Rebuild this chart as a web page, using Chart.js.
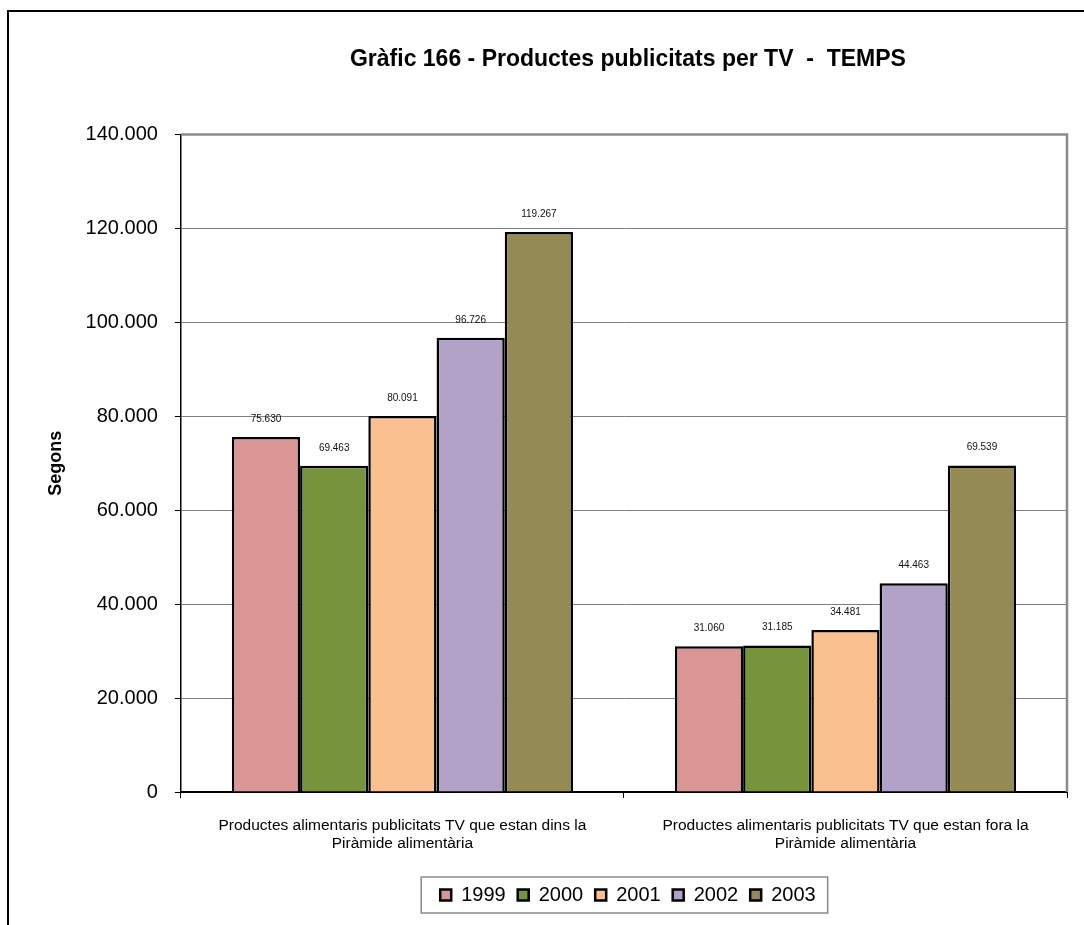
<!DOCTYPE html>
<html>
<head>
<meta charset="utf-8">
<script src="https://cdn.jsdelivr.net/npm/chart.js@4.4.0/dist/chart.umd.min.js"></script>
<style>
  html, body { margin: 0; padding: 0; background: #fff; overflow: hidden; width: 1084px; height: 925px; }
  #frame { position: absolute; left: 7px; top: 10px; width: 2000px; height: 2000px; border: 2.5px solid #000; box-sizing: border-box; }
  #c { position: absolute; left: 0; top: 0; }
</style>
</head>
<body>
<div id="frame"></div>
<canvas id="c" width="1084" height="925"></canvas>
<script>
const titleText = 'Gràfic 166 - Productes publicitats per TV  -  TEMPS';
const yAxisTitle = 'Segons';
const categories = [
  ['Productes alimentaris publicitats TV que estan dins la', 'Piràmide alimentària'],
  ['Productes alimentaris publicitats TV que estan fora la', 'Piràmide alimentària']
];
const years = ['1999', '2000', '2001', '2002', '2003'];
const values1999 = [75630, 31060];
const values2000 = [69463, 31185];
const values2001 = [80091, 34481];
const values2002 = [96726, 44463];
const values2003 = [119267, 69539];
const yMin = 0, yMax = 140000, yStep = 20000;
const colors = ['#D99694', '#77933C', '#FAC090', '#B3A2C7', '#948A54'];

const FONT = "'Liberation Sans', Arial, sans-serif";
function fmt(v) { return String(Math.round(v)).replace(/\B(?=(\d{3})+(?!\d))/g, '.'); }

const seriesValues = [values1999, values2000, values2001, values2002, values2003];
const datasets = years.map((y, i) => ({
  label: y,
  data: seriesValues[i],
  backgroundColor: colors[i],
  borderColor: '#000',
  borderWidth: 2.5,
  borderSkipped: 'bottom',
  categoryPercentage: 0.77,
  barPercentage: 1.0
}));

const customPlugin = {
  id: 'custom',
  afterLayout(chart) {
    const ca = chart.chartArea;
    if (chart.titleBlock) { chart.titleBlock.left = ca.left + 4; chart.titleBlock.right = ca.right + 4; }
    if (chart.legend) { chart.legend.left = ca.left + 4; chart.legend.right = ca.right + 4; }
  },
  beforeDatasetsDraw(chart) {
    const ctx = chart.ctx, ca = chart.chartArea;
    ctx.save();
    ctx.strokeStyle = '#8a8a8a';
    ctx.lineWidth = 2.5;
    ctx.beginPath();
    ctx.moveTo(ca.left, ca.top);
    ctx.lineTo(ca.right, ca.top);
    ctx.lineTo(ca.right, ca.bottom);
    ctx.stroke();
    ctx.restore();
  },
  afterDatasetsDraw(chart) {
    const ctx = chart.ctx;
    ctx.save();
    ctx.font = '10px ' + FONT;
    ctx.fillStyle = '#111';
    ctx.textAlign = 'center';
    ctx.textBaseline = 'middle';
    chart.data.datasets.forEach((ds, di) => {
      const meta = chart.getDatasetMeta(di);
      meta.data.forEach((bar, i) => {
        ctx.fillText(fmt(ds.data[i]), bar.x, bar.y - 18);
      });
    });
    ctx.restore();
  },
  afterDraw(chart) {
    const lg = chart.legend;
    if (!lg || !lg.legendHitBoxes || !lg.legendHitBoxes.length) return;
    const hb = lg.legendHitBoxes;
    let minX = Infinity, maxX = -Infinity, minY = Infinity, maxY = -Infinity;
    hb.forEach(h => { minX = Math.min(minX, h.left); maxX = Math.max(maxX, h.left + h.width); minY = Math.min(minY, h.top); maxY = Math.max(maxY, h.top + h.height); });
    const ctx = chart.ctx;
    ctx.save();
    ctx.strokeStyle = '#8a8a8a';
    ctx.lineWidth = 1.5;
    ctx.strokeRect(minX - 19, minY - 8, (maxX - minX) + 31, (maxY - minY) + 16);
    ctx.restore();
  }
};

new Chart(document.getElementById('c'), {
  type: 'bar',
  data: { labels: categories, datasets },
  plugins: [customPlugin],
  options: {
    responsive: false,
    devicePixelRatio: 1,
    animation: false,
    layout: { padding: { left: 10, right: 17, top: 0, bottom: 10 } },
    plugins: {
      tooltip: { enabled: false },
      title: {
        display: true,
        text: titleText,
        color: '#000',
        font: { family: FONT, size: 23, weight: 'bold' },
        padding: { top: 46, bottom: 61 }
      },
      legend: {
        position: 'bottom',
        labels: {
          boxWidth: 11,
          boxHeight: 11,
          padding: 12,
          color: '#000',
          font: { family: FONT, size: 20 }
        }
      }
    },
    scales: {
      x: {
        grid: { display: true, drawOnChartArea: false, drawTicks: true, tickLength: 6, tickColor: '#000', offset: true },
        border: { display: true, color: '#000', width: 2 },
        ticks: { color: '#000', font: { family: FONT, size: 15.5, lineHeight: 1.16 }, padding: 19, maxRotation: 0, autoSkip: false },
        afterFit(scale) { scale.height += 1; }
      },
      y: {
        min: yMin,
        max: yMax,
        ticks: { stepSize: yStep, color: '#000', font: { family: FONT, size: 20 }, padding: 17, callback: (v) => fmt(v) },
        grid: { color: '#808080', lineWidth: 1, tickColor: '#000', tickLength: 6 },
        border: { display: true, color: '#000', width: 1.5 },
        title: { display: true, text: yAxisTitle, color: '#000', font: { family: FONT, size: 18, weight: 'bold' }, padding: { top: 35, bottom: 2 } }
      }
    }
  }
});
</script>
</body>
</html>
